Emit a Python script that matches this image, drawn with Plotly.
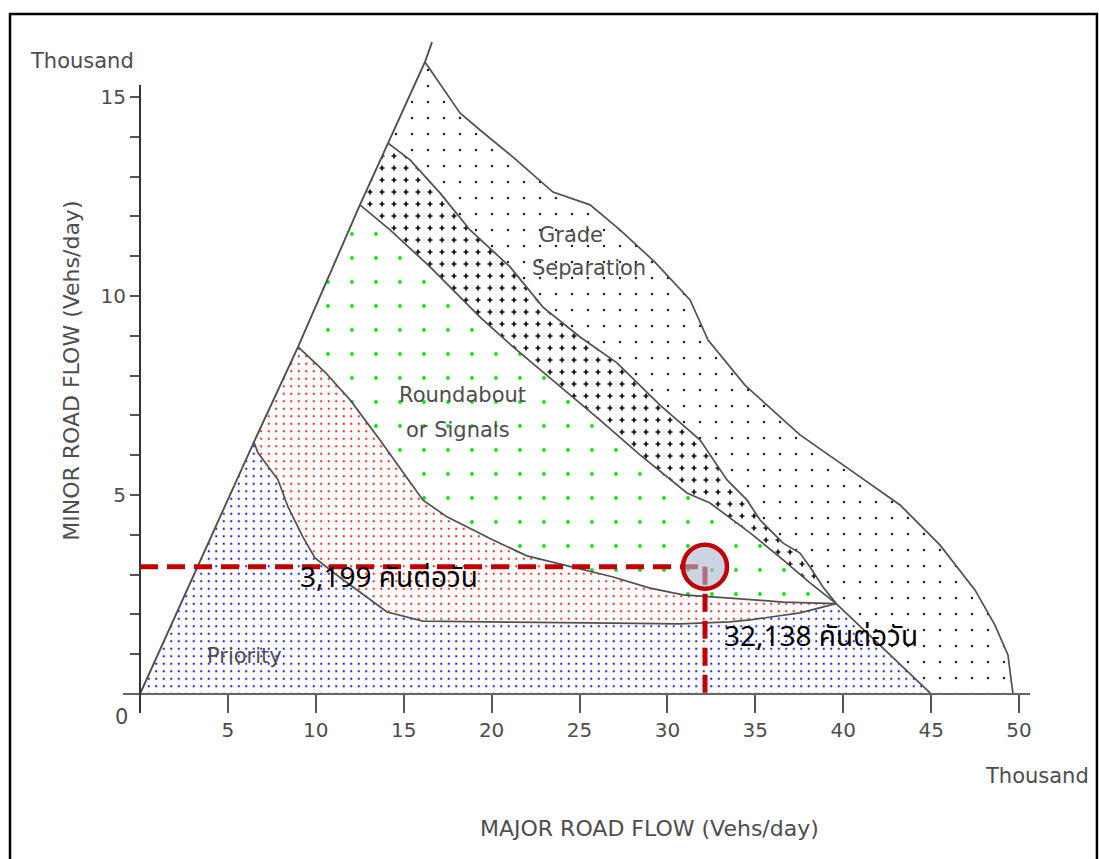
import plotly.graph_objects as go

# ---------------------------------------------------------------------------
# Junction type selection chart (flows in thousand vehicles per day)
# ---------------------------------------------------------------------------

x_tick_vals = [0, 5, 10, 15, 20, 25, 30, 35, 40, 45, 50]
x_tick_text = ["", "5", "10", "15", "20", "25", "30", "35", "40", "45", "50"]
y_tick_vals = [0, 1, 2, 3, 4, 5, 6, 7, 8, 9, 10, 11, 12, 13, 14, 15]
y_tick_text = ["", "", "", "", "", "5", "", "", "", "", "10", "", "", "", "", "15"]

# left limit of the chart (major flow never below minor flow)
edge_x = [0.0, 6.48, 8.99, 12.51, 14.11, 16.21, 16.61]
edge_y = [0.0, 6.33, 8.72, 12.29, 13.84, 15.88, 16.38]

# Priority | Roundabout (red) boundary
prio_x = [6.48, 6.71, 7.85, 8.42, 9.27, 9.95, 11.09, 12.51, 14.05, 16.10, 19.34,
          26.91, 30.72, 33.56, 34.70, 37.54, 39.60]
prio_y = [6.33, 6.06, 5.38, 4.70, 3.94, 3.42, 3.02, 2.56, 2.06, 1.83, 1.81,
          1.78, 1.76, 1.81, 1.86, 2.04, 2.27]

# red band | Roundabout or Signals boundary
red_x = [8.99, 10.52, 11.95, 13.65, 15.07, 16.10, 17.46, 20.08, 22.01, 24.63,
         26.91, 29.01, 30.89, 33.56, 36.58, 39.60]
red_y = [8.72, 8.09, 7.39, 6.38, 5.50, 4.87, 4.45, 3.87, 3.47, 3.19,
         2.94, 2.66, 2.49, 2.41, 2.31, 2.27]

# Roundabout or Signals | cross-hatched band boundary
green_x = [12.51, 14.22, 16.50, 19.34, 21.22, 22.58, 26.17, 28.44, 30.15, 31.11,
           32.42, 34.70, 36.58, 38.11, 39.60]
green_y = [12.29, 11.66, 10.73, 9.47, 8.72, 8.22, 6.88, 6.01, 5.38, 5.05,
           4.80, 4.05, 3.37, 2.79, 2.27]

# cross-hatched band | Grade Separation boundary
cross_x = [14.11, 15.36, 17.06, 18.77, 21.05, 22.92, 25.03, 27.13, 29.58, 31.86,
           33.39, 34.53, 35.27, 36.58, 37.54, 38.11, 38.85, 39.60]
cross_y = [13.84, 13.42, 12.59, 11.66, 10.73, 9.72, 8.97, 8.32, 7.26, 6.38,
           5.38, 4.87, 4.37, 3.79, 3.54, 3.19, 2.69, 2.27]

# outer limit of Grade Separation
grade_x = [16.21, 18.20, 19.34, 21.22, 23.49, 25.60, 27.30, 29.29, 31.29, 32.31,
           34.41, 37.54, 40.39, 43.23, 45.51, 47.50, 48.63, 49.37, 49.55, 49.66]
grade_y = [15.88, 14.60, 14.17, 13.49, 12.61, 12.29, 11.66, 10.85, 9.90, 8.89,
           7.76, 6.51, 5.63, 4.75, 3.74, 2.61, 1.73, 0.98, 0.35, 0.00]

# Priority | Grade Separation boundary below the meeting point
split_x = [39.60, 45.0]
split_y = [2.27, 0.0]

# design flows at the studied junction (thousand veh/day)
design_major = 32.138
design_minor = 3.199

BORDER = "#505050"
LABEL = "#4d4d4d"
FONT = "DejaVu Sans"
THAI = "Noto Sans Thai, Leelawadee UI, Tahoma, Noto Sans, sans-serif"

# plot area in pixels and the matching value ranges
W, H = 1099, 859
ML, MR, MT, MB = 100, 39, 30, 119
X_RANGE = [-2.275, 52.33]
Y_RANGE = [-1.156, 16.683]
PLUS = 12  # tile of the cross-hatch texture, px

plot_w = W - ML - MR
plot_h = H - MT - MB
px_x = (X_RANGE[1] - X_RANGE[0]) / plot_w
px_y = (Y_RANGE[1] - Y_RANGE[0]) / plot_h
half = PLUS / 2
# a twin subplot shifted by half a texture tile (same value-to-pixel mapping);
# it cuts the hatch grid into plus marks and carries every line drawn on top
X2_RANGE = [X_RANGE[0] + half * px_x, X_RANGE[1]]
Y2_RANGE = [Y_RANGE[0], Y_RANGE[1] - half * px_y]

fig = go.Figure()


def region(xs, ys, shape, color, size, solidity, bg="white", axes=("x", "y")):
    fig.add_trace(go.Scatter(
        x=xs, y=ys, mode="lines", fill="toself",
        line=dict(width=0, color="rgba(0,0,0,0)"),
        fillcolor=bg,
        fillpattern=dict(shape=shape, fgcolor=color, bgcolor=bg,
                         size=size, solidity=solidity, fillmode="replace"),
        xaxis=axes[0], yaxis=axes[1],
        hoverinfo="skip", showlegend=False,
    ))


def border(xs, ys, width=1.7):
    fig.add_trace(go.Scatter(x=xs, y=ys, mode="lines", xaxis="x2", yaxis="y2",
                             line=dict(color=BORDER, width=width),
                             hoverinfo="skip", showlegend=False))


poly_prio = ([edge_x[0]] + prio_x + split_x[1:], [edge_y[0]] + prio_y + split_y[1:])
poly_red = (prio_x + red_x[::-1], prio_y + red_y[::-1])
poly_green = (red_x + green_x[::-1], red_y + green_y[::-1])
poly_cross = (green_x + cross_x[::-1], green_y + cross_y[::-1])
poly_grade = (cross_x + split_x[1:] + grade_x[::-1], cross_y + split_y[1:] + grade_y[::-1])

# Priority
region(*poly_prio, ".", "#1a1aff", 7.5, 0.07)
# red transition band
region(*poly_red, ".", "#ff2020", 7.5, 0.07)
# Roundabout or Signals
region(*poly_green, ".", "#10e010", 24, 0.02)
# cross-hatched band: dark grid, then cut by a white grid offset by half a tile
region(*poly_cross, "+", "#111111", PLUS, 0.27)
region(*poly_cross, "+", "white", PLUS, 0.83, bg="rgba(0,0,0,0)", axes=("x2", "y2"))
# Grade Separation
region(*poly_grade, ".", "#222222", 16, 0.019)

# region outlines
border(prio_x, prio_y)
border(red_x, red_y)
border(green_x, green_y)
border(cross_x, cross_y)
border(grade_x, grade_y)
border(split_x, split_y)
border(edge_x, edge_y, 1.9)

# design point guide lines
fig.add_trace(go.Scatter(x=[0, design_major], y=[design_minor, design_minor],
                         mode="lines", xaxis="x2", yaxis="y2",
                         line=dict(color="#c00000", width=5, dash="18px,9px"),
                         hoverinfo="skip", showlegend=False))
fig.add_trace(go.Scatter(x=[design_major, design_major], y=[design_minor, 0],
                         mode="lines", xaxis="x2", yaxis="y2",
                         line=dict(color="#c00000", width=5, dash="18px,9px"),
                         hoverinfo="skip", showlegend=False))
fig.add_trace(go.Scatter(x=[design_major], y=[design_minor], mode="markers",
                         xaxis="x2", yaxis="y2",
                         marker=dict(size=44, color="rgba(170,182,208,0.6)",
                                     line=dict(color="#c00000", width=4.5)),
                         hoverinfo="skip", showlegend=False))

# axis lines
fig.add_shape(type="line", x0=-0.97, x1=50.63, y0=0, y1=0,
              line=dict(color="#666666", width=2))
fig.add_shape(type="line", x0=0, x1=0, y0=-0.47, y1=15.3,
              line=dict(color="#333333", width=2))

# outer frame
fig.add_shape(type="rect", xref="paper", yref="paper",
              x0=-0.09375, x1=1.0385, y0=-0.2, y1=1.0225,
              line=dict(color="black", width=2.5), layer="above")

annotations = [
    dict(text="Thousand", xref="paper", yref="paper", x=-0.01875, y=0.9563,
         font=dict(size=21, color=LABEL, family=FONT)),
    dict(text="Thousand", xref="paper", yref="paper", x=0.976, y=-0.0507,
         font=dict(size=21, color=LABEL, family=FONT)),
    dict(text="MAJOR ROAD FLOW (Vehs/day)", xref="paper", yref="paper", x=0.5729, y=-0.124,
         font=dict(size=22, color=LABEL, family=FONT)),
    dict(text="MINOR ROAD FLOW (Vehs/day)", xref="paper", yref="paper", x=-0.0292, y=0.52,
         textangle=-90, font=dict(size=22, color=LABEL, family=FONT)),
    dict(text="0", xref="paper", yref="paper", x=0.0229, y=0.0324,
         font=dict(size=21, color=LABEL, family=FONT)),
    dict(text="Priority", x=5.97, y=0.95, font=dict(size=21, color=LABEL, family=FONT)),
    dict(text="Roundabout", x=18.32, y=7.51, font=dict(size=21, color=LABEL, family=FONT)),
    dict(text="or Signals", x=18.09, y=6.63, font=dict(size=21, color=LABEL, family=FONT)),
    dict(text="Grade", x=24.52, y=11.53, font=dict(size=21, color=LABEL, family=FONT)),
    dict(text="Separation", x=25.54, y=10.70, font=dict(size=21, color=LABEL, family=FONT)),
    dict(text=f"{design_minor * 1000:,.0f} คันต่อวัน", x=8.99, y=2.91, xanchor="left",
         font=dict(size=28, color="black", family=THAI)),
    dict(text=f"{design_major * 1000:,.0f} คันต่อวัน", x=33.1, y=1.43, xanchor="left",
         font=dict(size=28, color="black", family=THAI)),
]
for a in annotations:
    a.setdefault("xref", "x")
    a.setdefault("yref", "y")
    a.setdefault("xanchor", "center")
    a.setdefault("yanchor", "middle")
    a["showarrow"] = False

fig.update_layout(
    width=W, height=H, autosize=False,
    margin=dict(l=ML, r=MR, t=MT, b=MB),
    paper_bgcolor="white", plot_bgcolor="rgba(0,0,0,0)",
    showlegend=False,
    annotations=annotations,
    xaxis=dict(range=X_RANGE, domain=[0, 1], anchor="free",
               position=(0 - Y_RANGE[0]) / (Y_RANGE[1] - Y_RANGE[0]),
               tickmode="array", tickvals=x_tick_vals, ticktext=x_tick_text,
               ticks="outside", ticklen=18, tickwidth=2, tickcolor="#555555",
               showline=False, showgrid=False, zeroline=False,
               tickfont=dict(size=20, color=LABEL, family=FONT)),
    yaxis=dict(range=Y_RANGE, domain=[0, 1], anchor="free",
               position=(0 - X_RANGE[0]) / (X_RANGE[1] - X_RANGE[0]),
               tickmode="array", tickvals=y_tick_vals, ticktext=y_tick_text,
               ticks="outside", ticklen=10, tickwidth=2, tickcolor="#555555",
               showline=False, showgrid=False, zeroline=False,
               tickfont=dict(size=20, color=LABEL, family=FONT)),
    xaxis2=dict(range=X2_RANGE, domain=[half / plot_w, 1], anchor="y2", visible=False),
    yaxis2=dict(range=Y2_RANGE, domain=[0, 1 - half / plot_h], anchor="x2", visible=False),
)

fig.write_html("out.html")
